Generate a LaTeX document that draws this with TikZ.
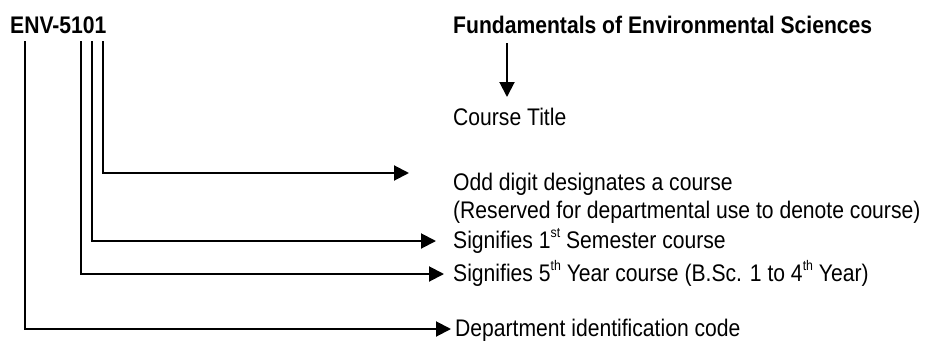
\documentclass[tikz,border=0pt]{standalone}
\usepackage{fontspec}
\setmainfont[FakeStretch=0.88]{Liberation Sans}
\usetikzlibrary{arrows.meta}
\newcommand{\supx}[1]{\raisebox{0.42em}{\fontsize{14}{14}\selectfont #1}}
\begin{document}
\begin{tikzpicture}[x=1pt,y=-1pt,
  lbl/.style={anchor=base west,inner sep=0pt,font=\fontsize{24}{28}\selectfont},
  ttl/.style={anchor=base west,inner sep=0pt,font=\fontsize{24}{28}\selectfont\bfseries},
  conn/.style={line width=2pt,-{Triangle[length=15pt,width=15pt]}}]
\useasboundingbox (0,0) rectangle (940,343);
% headings
\node[ttl] (code) at (10,33) {ENV-5101};
\node[ttl] (title) at (453,33) {Fundamentals of Environmental Sciences};
% descriptions
\node[lbl] (ctitle) at (453,125) {Course Title};
\node[lbl] (odd) at (453,190) {Odd digit designates a course};
\node[lbl] (resv) at (453,218) {(Reserved for departmental use to denote course)};
\node[lbl] (sem) at (453,248) {Signifies 1\supx{st} Semester course};
\node[lbl] (year) at (453,281) {Signifies 5\supx{th} Year course (B.Sc. 1 to 4\supx{th} Year)};
\node[lbl] (dept) at (455,336) {Department identification code};
% connector ends
\coordinate (sD) at (25,41);
\coordinate (sY) at (81,41);
\coordinate (sS) at (92,41);
\coordinate (sO) at (103,41);
\coordinate (eO) at (409,173);
\coordinate (eS) at (436,241);
\coordinate (eY) at (444,274);
\coordinate (eD) at (451,329);
\coordinate (tA) at (507,43);
\coordinate (tB) at (507,97);
% connectors
\draw[conn] (tA) -- (tB);
\draw[conn] (sO) |- (eO);
\draw[conn] (sS) |- (eS);
\draw[conn] (sY) |- (eY);
\draw[conn] (sD) |- (eD);
\end{tikzpicture}
\end{document}
